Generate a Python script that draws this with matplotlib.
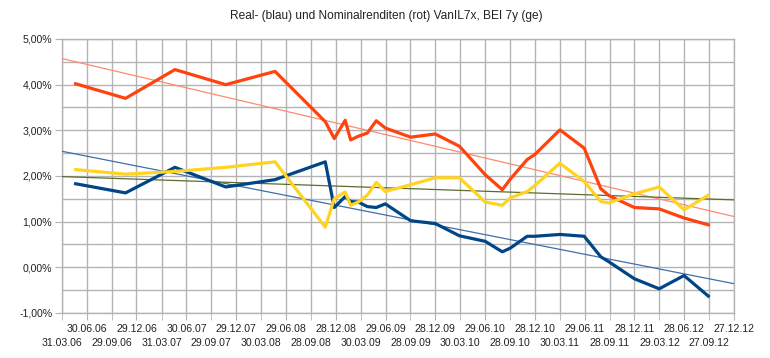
import numpy as np
import pandas as pd
import matplotlib
matplotlib.use("Agg")
import matplotlib.pyplot as plt
import matplotlib.dates as mdates
from matplotlib.ticker import FuncFormatter, MultipleLocator

plt.rcParams['font.family'] = ['Liberation Sans', 'DejaVu Sans']

# data (yields in %)
dates = ['2006-05-20', '2006-11-19', '2007-05-19', '2007-11-21', '2008-05-20',
         '2008-11-20', '2008-12-23', '2009-02-01', '2009-02-21', '2009-03-21',
         '2009-04-23', '2009-05-26', '2009-06-28', '2009-09-29', '2009-12-28',
         '2010-03-27', '2010-06-29', '2010-08-31', '2010-09-29', '2010-11-30',
         '2010-12-28', '2011-03-30', '2011-06-27', '2011-08-27', '2011-09-26',
         '2011-12-28', '2012-03-28', '2012-06-27', '2012-09-24']
nominal = [4.02, 3.70, 4.33, 4.00, 4.29,
           3.19, 2.82, 3.22, 2.79, 2.87,
           2.94, 3.21, 3.05, 2.85, 2.92,
           2.65, 2.03, 1.70, 1.93, 2.36,
           2.47, 3.01, 2.61, 1.72, 1.57,
           1.31, 1.28, 1.08, 0.93]
real = [1.83, 1.63, 2.19, 1.76, 1.92,
        2.31, 1.31, 1.55, 1.44, 1.43,
        1.33, 1.31, 1.39, 1.02, 0.96,
        0.69, 0.57, 0.34, 0.42, 0.68,
        0.68, 0.72, 0.68, 0.23, 0.12,
        -0.25, -0.47, -0.18, -0.63]
bei = [2.14, 2.04, 2.10, 2.19, 2.31,
       0.88, 1.50, 1.65, 1.36, 1.43,
       1.58, 1.86, 1.66, 1.81, 1.96,
       1.96, 1.43, 1.36, 1.52, 1.66,
       1.79, 2.28, 1.88, 1.44, 1.41,
       1.61, 1.76, 1.26, 1.58]

tick_labels = ['31.03.06', '30.06.06', '29.09.06', '29.12.06', '31.03.07', '30.06.07',
               '29.09.07', '29.12.07', '30.03.08', '29.06.08', '28.09.08', '28.12.08',
               '30.03.09', '29.06.09', '28.09.09', '28.12.09', '30.03.10', '29.06.10',
               '28.09.10', '28.12.10', '30.03.11', '29.06.11', '28.09.11', '28.12.11',
               '29.03.12', '28.06.12', '27.09.12', '27.12.12']

x = pd.to_datetime(dates)
ticks = pd.to_datetime(tick_labels, format='%d.%m.%y')
xnum = mdates.date2num(x)
tnum = mdates.date2num(ticks)

fig = plt.figure(figsize=(7.7, 3.58), dpi=100)
ax = fig.add_axes([0.0805, 0.1257, 0.8727, 0.7654])

grid_col = '#b3b3b3'
series = [(real, '#004586', '#3f6fa8'),
          (nominal, '#ff420e', '#ff8a70'),
          (bei, '#ffd320', '#5c6b2e')]

# trend lines (linear regression over the whole axis)
xl = np.array([tnum[0], tnum[-1]])
for vals, col, tcol in series:
    k, d = np.polyfit(xnum, vals, 1)
    ax.plot(xl, k * xl + d, color=tcol, lw=0.9, zorder=3)

for vals, col, tcol in series:
    ax.plot(xnum, vals, color=col, lw=2.3, zorder=4, solid_joinstyle='round')

ax.set_xlim(tnum[0], tnum[-1])
ax.set_ylim(-1, 5)

# staggered date labels: odd ones on the upper row (major), even ones lower (minor)
ax.set_xticks(tnum[1::2])
ax.set_xticklabels(tick_labels[1::2], fontsize=7.6, color='#222222')
ax.set_xticks(tnum[0::2], minor=True)
ax.set_xticklabels(tick_labels[0::2], minor=True, fontsize=7.6, color='#222222')
ax.tick_params(axis='x', which='major', color=grid_col, length=5, pad=3)
ax.tick_params(axis='x', which='minor', color=grid_col, length=5, pad=13)

ax.yaxis.set_major_locator(MultipleLocator(1))
ax.yaxis.set_minor_locator(MultipleLocator(0.5))
ax.yaxis.set_major_formatter(FuncFormatter(lambda v, p: f"{v:.2f}%".replace('.', ',')))
ax.tick_params(axis='y', labelsize=7.6, labelcolor='#222222', color=grid_col, length=5, pad=2)
ax.tick_params(axis='y', which='minor', length=0)

ax.grid(True, which='both', color=grid_col, lw=1.0)
ax.set_axisbelow(True)
for s in ax.spines.values():
    s.set_color(grid_col)
    s.set_linewidth(1.0)

fig.text(0.502, 0.955, 'Real- (blau) und Nominalrenditen (rot) VanIL7x, BEI 7y (ge)',
         ha='center', va='center', fontsize=8.6, color='#222222')

fig.savefig('out.png', dpi=100)
